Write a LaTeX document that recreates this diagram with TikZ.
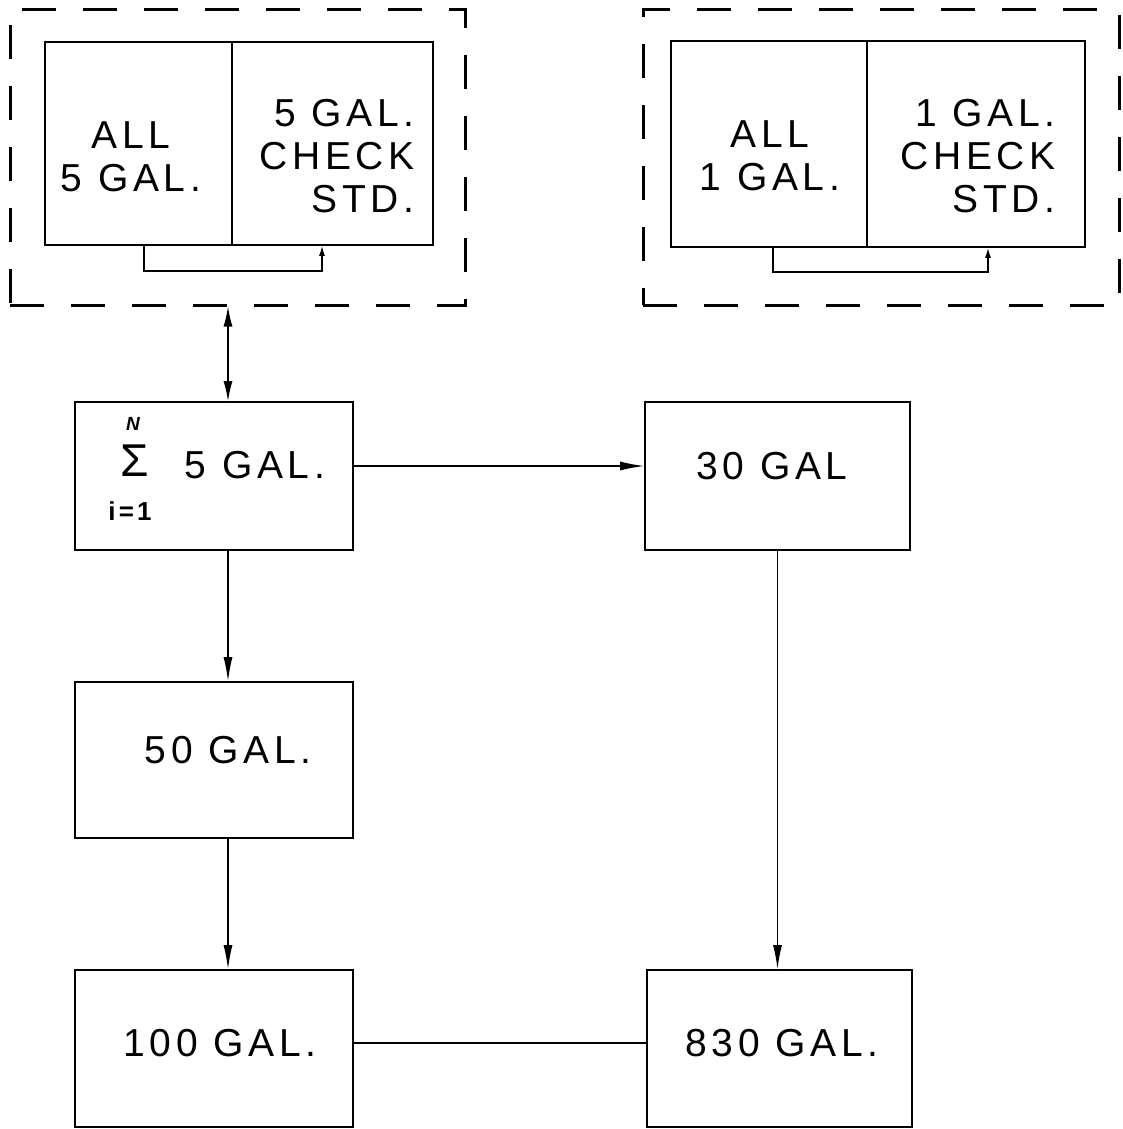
\documentclass[tikz,border=0pt]{standalone}
\usepackage{fontspec}
\setmainfont{Liberation Sans}[LetterSpace=12]
\usetikzlibrary{arrows.meta,fit}
\begin{document}
\begin{tikzpicture}[x=1pt,y=-1pt,
  box/.style={draw,line width=1.8pt,inner sep=0pt},
  frame/.style={draw,line width=3pt,inner sep=0pt,dash pattern=on 34pt off 27pt},
  lbl/.style={inner sep=0pt,font=\fontsize{39}{43}\selectfont},
  arr/.style={line width=1.3pt,-{Latex[length=24pt,width=9pt]}},
  dbl/.style={line width=1.3pt,{Latex[length=20pt,width=9pt]}-{Latex[length=20pt,width=9pt]}},
  loop/.style={line width=1.3pt,-{Latex[length=10pt,width=6pt]}}]
\useasboundingbox (0,0) rectangle (1123,1129);
% frames
\node[frame, fit={(10,10) (465,305)}] (lframe) {};
\node[frame, fit={(643,10) (1119,305)}] (rframe) {};
% split boxes
\node[box, fit={(45,42) (232,245)}] (lall) {};
\node[box, fit={(232,42) (433,245)}] (lchk) {};
\node[box, fit={(671,41) (867,247)}] (rall) {};
\node[box, fit={(867,41) (1085,247)}] (rchk) {};
% main boxes
\node[box, fit={(75,402) (353,550)}] (sum) {};
\node[box, fit={(645,402) (910,550)}] (g30) {};
\node[box, fit={(75,682) (353,838)}] (g50) {};
\node[box, fit={(75,970) (353,1127)}] (g100) {};
\node[box, fit={(647,970) (912,1127)}] (g830) {};
% texts
\node[lbl, align=center] (tall5) at (131,157) {ALL\\5 GAL.};
\node[lbl, align=right] (tchk5) at (337,156) {5 GAL.\\CHECK\\STD.};
\node[lbl, align=center] (tall1) at (770,156) {ALL\\1 GAL.};
\node[lbl, align=right] (tchk1) at (978,156) {1 GAL.\\CHECK\\STD.};
\node[inner sep=0pt,font=\fontsize{46}{46}\selectfont] (sig) at (135,461) {Σ};
\node[inner sep=0pt,font=\bfseries\itshape\fontsize{19}{19}\selectfont] (sN) at (133,424) {N};
\node[inner sep=0pt,font=\bfseries\fontsize{26}{26}\selectfont] (si) at (130,511) {i=1};
\node[lbl] (s5) at (255,465) {5 GAL.};
\node[lbl] (t30) at (772,466) {30 GAL};
\node[lbl] (t50) at (228,750) {50 GAL.};
\node[lbl] (t100) at (220,1043) {100 GAL.};
\node[lbl] (t830) at (782,1043) {830 GAL.};
% connectors
\draw[loop] ([xshift=5.5pt]lall.south) -- ++(0,25) -| ([xshift=-10.5pt]lchk.south);
\draw[loop] ([xshift=4pt]rall.south) -- ++(0,24) -| ([xshift=12pt]rchk.south);
\draw[dbl] ([xshift=14pt]sum.north |- lframe.south) -- ([xshift=14pt]sum.north);
\draw[arr] ([yshift=10pt]sum.east) -- ([yshift=10pt]g30.west);
\draw[arr] ([xshift=14pt]sum.south) -- ([xshift=14pt]g50.north);
\draw[arr] ([xshift=14pt]g50.south) -- ([xshift=14pt]g100.north);
\draw[arr] (g30.south) -- (g30.south |- g830.north);
\draw[line width=1.3pt] ([yshift=5.5pt]g100.east) -- ([yshift=5.5pt]g100.east -| g830.west);
\end{tikzpicture}
\end{document}
